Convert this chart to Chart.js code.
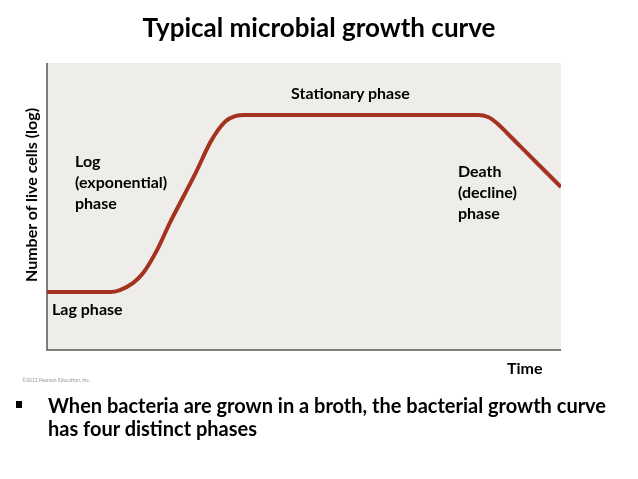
<!DOCTYPE html>
<html>
<head>
<meta charset="utf-8">
<script src="https://cdn.jsdelivr.net/npm/chart.js@4/dist/chart.umd.min.js"></script>
<style>
  html, body { margin: 0; padding: 0; background: #fff; }
  body { width: 638px; height: 479px; position: relative; overflow: hidden; font-family: Lato, "Open Sans", sans-serif; font-weight: bold; color: #000; }
  #wrap { position: absolute; left: 0; top: 0; width: 638px; height: 479px; }
  .t { position: absolute; white-space: nowrap; line-height: 1; }
  #title { left: 0; width: 638px; text-align: center; top: 14px; font-size: 26px; }
  #ylab { left: 31px; top: 195px; font-size: 16px; transform: translate(-50%, -50%) rotate(-90deg); }
  .lab { font-size: 16px; line-height: 21px; }
  #copy { left: 22px; top: 378px; font-size: 5px; font-weight: normal; color: #999; }
  .bul { font-size: 20px; line-height: 23px; left: 48px; }
  #sq { left: 16px; top: 401px; width: 6px; height: 7px; background: #000; position: absolute; }
</style>
</head>
<body>
<div id="wrap"><canvas id="chart" width="638" height="479"></canvas></div>
<div class="t" id="title">Typical microbial growth curve</div>
<div class="t" id="ylab">Number of live cells (log)</div>
<div class="t lab" style="left:291px; top:82px;">Stationary phase</div>
<div class="t lab" style="left:75px; top:150px;">Log<br>(exponential)<br>phase</div>
<div class="t lab" style="left:458px; top:160px;">Death<br>(decline)<br>phase</div>
<div class="t lab" style="left:52px; top:298px;">Lag phase</div>
<div class="t lab" style="left:507px; top:357px;">Time</div>
<div class="t" id="copy">©2012 Pearson Education, Inc.</div>
<div id="sq"></div>
<div class="t bul" style="top:394px;">When bacteria are grown in a broth, the bacterial growth curve<br>has four distinct phases</div>
<script>
// time (arbitrary units, 0-100) and log cell count (arbitrary units, 0-100)
const timePoints = [0, 12.3, 14.2, 16.7, 18.7, 21.4, 23.9, 26.5, 29.0, 31.7, 33.3, 34.8, 36.6, 38.5, 83.9, 85.8, 87.5, 89.5, 92.0, 95.9, 100];
const logCells   = [20.2, 20.2, 20.9, 23.3, 26.8, 34.8, 44.3, 53.3, 62.0, 72.1, 76.7, 79.8, 81.5, 81.9, 81.9, 81.2, 79.1, 75.6, 71.1, 64.1, 56.8];

// grey plot background + left/bottom axis lines
const panel = {
  id: 'panel',
  beforeDraw(chart) {
    const { ctx, chartArea: a } = chart;
    ctx.save();
    ctx.fillStyle = '#efedea';
    ctx.fillRect(a.left, a.top, a.right - a.left, a.bottom - a.top);
    ctx.strokeStyle = '#555';
    ctx.lineWidth = 1.5;
    ctx.beginPath();
    ctx.moveTo(a.left, a.top);
    ctx.lineTo(a.left, a.bottom);
    ctx.lineTo(a.right, a.bottom);
    ctx.stroke();
    ctx.restore();
  }
};

const ctx = document.getElementById('chart').getContext('2d');
const chart = new Chart(ctx, {
  type: 'line',
  data: {
    datasets: [{
      data: timePoints.map(function(t, i) { return { x: t, y: logCells[i] }; }),
      borderColor: '#a3321f',
      borderWidth: 4,
      pointRadius: 0,
      cubicInterpolationMode: 'monotone',
      fill: false
    }]
  },
  options: {
    responsive: false,
    animation: false,
    layout: { padding: { left: 47, right: 77, top: 63, bottom: 129 } },
    plugins: { legend: { display: false }, tooltip: { enabled: false } },
    scales: {
      x: { type: 'linear', min: 0, max: 100, display: false },
      y: { min: 0, max: 100, display: false }
    }
  },
  plugins: [panel]
});
</script>
</body>
</html>
